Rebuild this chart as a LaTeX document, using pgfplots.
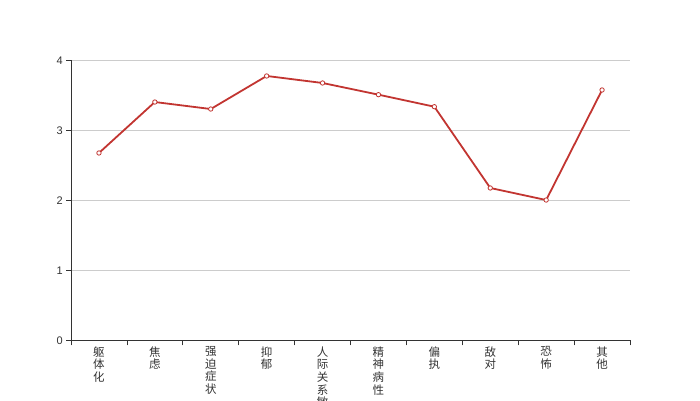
\documentclass[border=0pt]{standalone}
\usepackage{pgfplots}
\pgfplotsset{compat=1.18}
\usepackage{fontspec}
\setmainfont{Liberation Sans}
\newfontfamily\cjk{Noto Sans CJK SC}
\definecolor{linered}{HTML}{C23531}
\definecolor{axisgray}{HTML}{333333}
\definecolor{gridgray}{HTML}{CCCCCC}
\begin{document}
\begin{tikzpicture}[x=1pt,y=1pt]
\useasboundingbox (0,0) rectangle (700,400);
\clip (0,0) rectangle (700,400);
\begin{axis}[
  scale only axis, width=559pt, height=280pt,
  at={(71pt,59.7pt)}, anchor=south west,
  xmin=-0.5, xmax=9.5, ymin=0, ymax=4,
  axis lines*=left,
  axis line style={axisgray, line width=0.8pt},
  ytick={0,1,2,3,4},
  ymajorgrids, grid style={gridgray, line width=0.8pt},
  tick align=outside, major tick length=5pt,
  tick style={axisgray, line width=0.8pt},
  xtick={-0.5,0.5,...,9.5}, xticklabels={},
  extra x ticks={0,1,2,3,4,5,6,7,8,9},
  extra x tick labels={{躯\\体\\化},{焦\\虑},{强\\迫\\症\\状},{抑\\郁},{人\\际\\关\\系\\敏\\感},{精\\神\\病\\性},{偏\\执},{敌\\对},{恐\\怖},{其\\他}},
  extra x tick style={major tick length=0pt, xticklabel style={font=\cjk\fontsize{11.5}{12.7}\selectfont, align=center, anchor=north, inner sep=0pt, yshift=-6pt, text=axisgray}},
  yticklabel style={font=\fontsize{11}{13}\selectfont, text=axisgray, inner sep=0pt, xshift=-3pt},
  /pgf/number format/assume math mode=true,
  clip=false,
]
\addplot[linered, line width=1.8pt, mark=*, mark size=2.2pt, mark options={fill=white, draw=linered, line width=0.8pt}]
coordinates {(0,2.676) (1,3.404) (2,3.304) (3,3.776) (4,3.676) (5,3.509) (6,3.337) (7,2.176) (8,2.004) (9,3.576)};
\end{axis}
\end{tikzpicture}
\end{document}
